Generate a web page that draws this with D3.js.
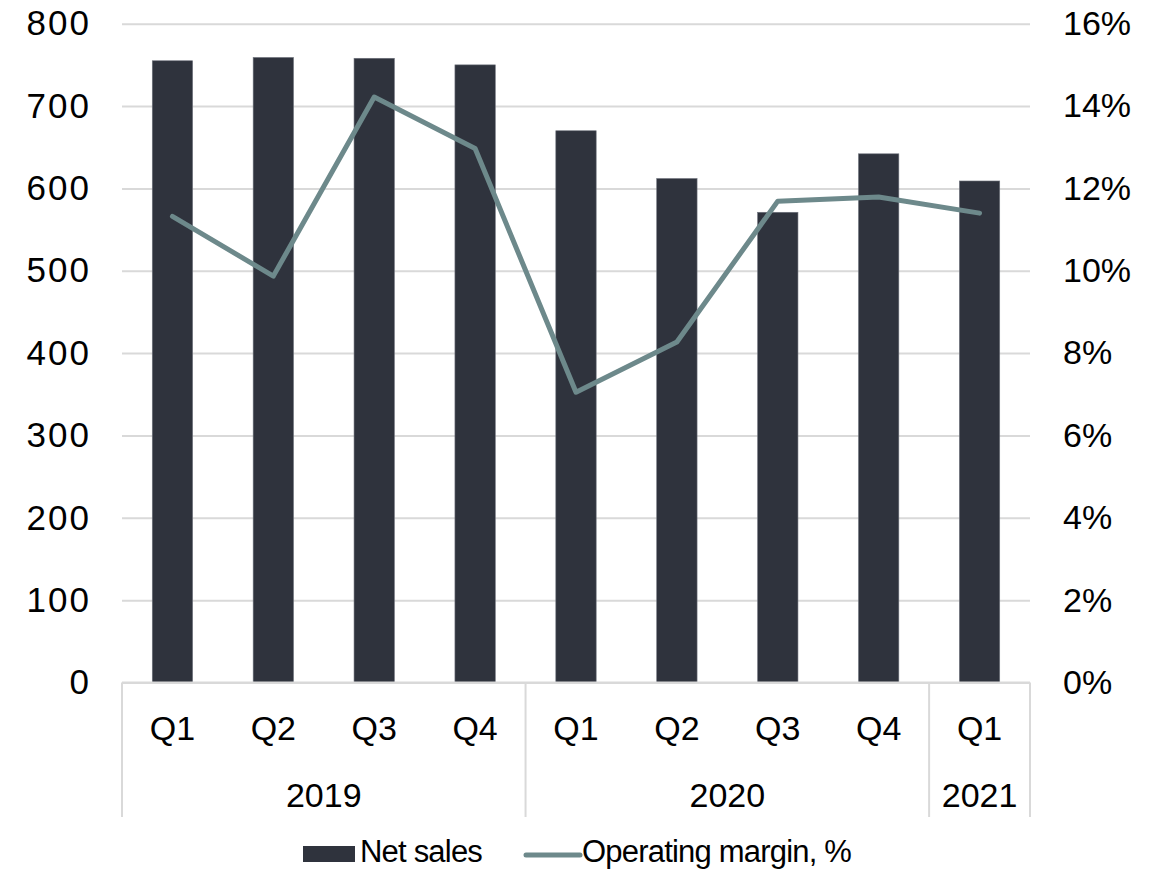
<!DOCTYPE html>
<html>
<head>
<meta charset="utf-8">
<script src="https://cdn.jsdelivr.net/npm/d3@7"></script>
<style>
  html, body { margin: 0; padding: 0; background: #fff; }
  svg { display: block; }
  text { font-family: "Liberation Sans", Arial, Helvetica, sans-serif; fill: #000; }
</style>
</head>
<body>
<svg id="chart" width="1158" height="870"></svg>
<script>
// Quarterly net sales (left axis) and operating margin in % (right axis)
const quarters = ["Q1", "Q2", "Q3", "Q4", "Q1", "Q2", "Q3", "Q4", "Q1"];
const years = ["2019", "2019", "2019", "2019", "2020", "2020", "2020", "2020", "2021"];
const netSales = [755, 759, 758, 750, 670, 612, 571, 642, 609];
const operatingMargin = [11.32, 9.87, 14.22, 12.97, 7.05, 8.27, 11.69, 11.79, 11.40];
const salesTicks = [0, 100, 200, 300, 400, 500, 600, 700, 800];
const marginTicks = [0, 2, 4, 6, 8, 10, 12, 14, 16];
const legendLabels = ["Net sales", "Operating margin, %"];

const barColor = "#2f333d";
const lineColor = "#6d898b";
const gridColor = "#d9d9d9";

const svg = d3.select("#chart");
const plotLeft = 122, plotRight = 1030, plotTop = 23.7, plotBottom = 682.5;

const x = d3.scaleBand()
  .domain(d3.range(quarters.length))
  .range([plotLeft, plotRight])
  .paddingInner(0.6)
  .paddingOuter(0.3);

const yL = d3.scaleLinear().domain([0, 800]).range([plotBottom, plotTop]);
const yR = d3.scaleLinear().domain([0, 16]).range([plotBottom, plotTop]);

// Horizontal gridlines
svg.append("g")
  .attr("transform", `translate(${plotLeft},0)`)
  .call(d3.axisLeft(yL).tickValues(salesTicks).tickSize(-(plotRight - plotLeft)).tickFormat(""))
  .call(g => g.select(".domain").remove())
  .call(g => g.selectAll("line").attr("stroke", gridColor).attr("stroke-width", 2));

// Left axis labels (wide-set digits)
svg.append("g")
  .attr("transform", `translate(${plotLeft - 31},0)`)
  .call(d3.axisLeft(yL).tickValues(salesTicks).tickSize(0).tickPadding(0))
  .call(g => g.select(".domain").remove())
  .call(g => g.selectAll("text").attr("font-size", 35).attr("letter-spacing", 2).attr("fill", "#000")
    .attr("font-family", "Liberation Sans, Arial, sans-serif"));

// Right axis labels
svg.append("g")
  .attr("transform", `translate(${plotRight + 33},0)`)
  .call(d3.axisRight(yR).tickValues(marginTicks).tickSize(0).tickPadding(0)
    .tickFormat(d => d + "%"))
  .call(g => g.select(".domain").remove())
  .call(g => g.selectAll("text").attr("font-size", 34).attr("fill", "#000")
    .attr("font-family", "Liberation Sans, Arial, sans-serif"));

// Bars
svg.append("g").selectAll("rect")
  .data(netSales)
  .join("rect")
  .attr("x", (d, i) => x(i))
  .attr("width", x.bandwidth())
  .attr("y", d => yL(d))
  .attr("height", d => yL(0) - yL(d))
  .attr("fill", barColor)
  .attr("stroke", "#6f737c")
  .attr("stroke-width", 0.6);

// Category axis baseline
svg.append("line")
  .attr("x1", plotLeft).attr("x2", plotRight)
  .attr("y1", plotBottom).attr("y2", plotBottom)
  .attr("stroke", gridColor).attr("stroke-width", 2);

// Year group separators
const gap = x.step() - x.bandwidth();
const groupStarts = [];
years.forEach((yv, i) => { if (i === 0 || years[i - 1] !== yv) groupStarts.push(i); });
const boundaries = groupStarts.map(i => x(i) - gap / 2).concat([x(years.length - 1) + x.bandwidth() + gap / 2]);
svg.append("g").selectAll("line")
  .data(boundaries)
  .join("line")
  .attr("x1", d => d).attr("x2", d => d)
  .attr("y1", plotBottom).attr("y2", 817)
  .attr("stroke", gridColor).attr("stroke-width", 2);

// Quarter labels
svg.append("g").selectAll("text")
  .data(quarters)
  .join("text")
  .attr("x", (d, i) => x(i) + x.bandwidth() / 2)
  .attr("y", 740)
  .attr("text-anchor", "middle")
  .attr("font-size", 34)
  .text(d => d);

// Year labels, centred within each group
const groups = groupStarts.map((s, k) => {
  const e = (k + 1 < groupStarts.length ? groupStarts[k + 1] : years.length) - 1;
  return { label: years[s], cx: (x(s) + x(e) + x.bandwidth()) / 2 };
});
svg.append("g").selectAll("text")
  .data(groups)
  .join("text")
  .attr("x", d => d.cx)
  .attr("y", 807)
  .attr("text-anchor", "middle")
  .attr("font-size", 34)
  .text(d => d.label);

// Operating margin line
const line = d3.line()
  .x((d, i) => x(i) + x.bandwidth() / 2)
  .y(d => yR(d));
svg.append("path")
  .datum(operatingMargin)
  .attr("d", line)
  .attr("fill", "none")
  .attr("stroke", lineColor)
  .attr("stroke-width", 5)
  .attr("stroke-linejoin", "round")
  .attr("stroke-linecap", "round");

// Legend
const legend = svg.append("g");
legend.append("rect")
  .attr("x", 303).attr("y", 846).attr("width", 52).attr("height", 16)
  .attr("fill", barColor);
legend.append("text")
  .attr("x", 360).attr("y", 862)
  .attr("font-size", 31).attr("letter-spacing", -0.8)
  .text(legendLabels[0]);
legend.append("line")
  .attr("x1", 526).attr("x2", 580).attr("y1", 855).attr("y2", 855)
  .attr("stroke", lineColor).attr("stroke-width", 5).attr("stroke-linecap", "round");
legend.append("text")
  .attr("x", 582).attr("y", 862)
  .attr("font-size", 31).attr("letter-spacing", -0.8)
  .text(legendLabels[1]);
</script>
</body>
</html>
